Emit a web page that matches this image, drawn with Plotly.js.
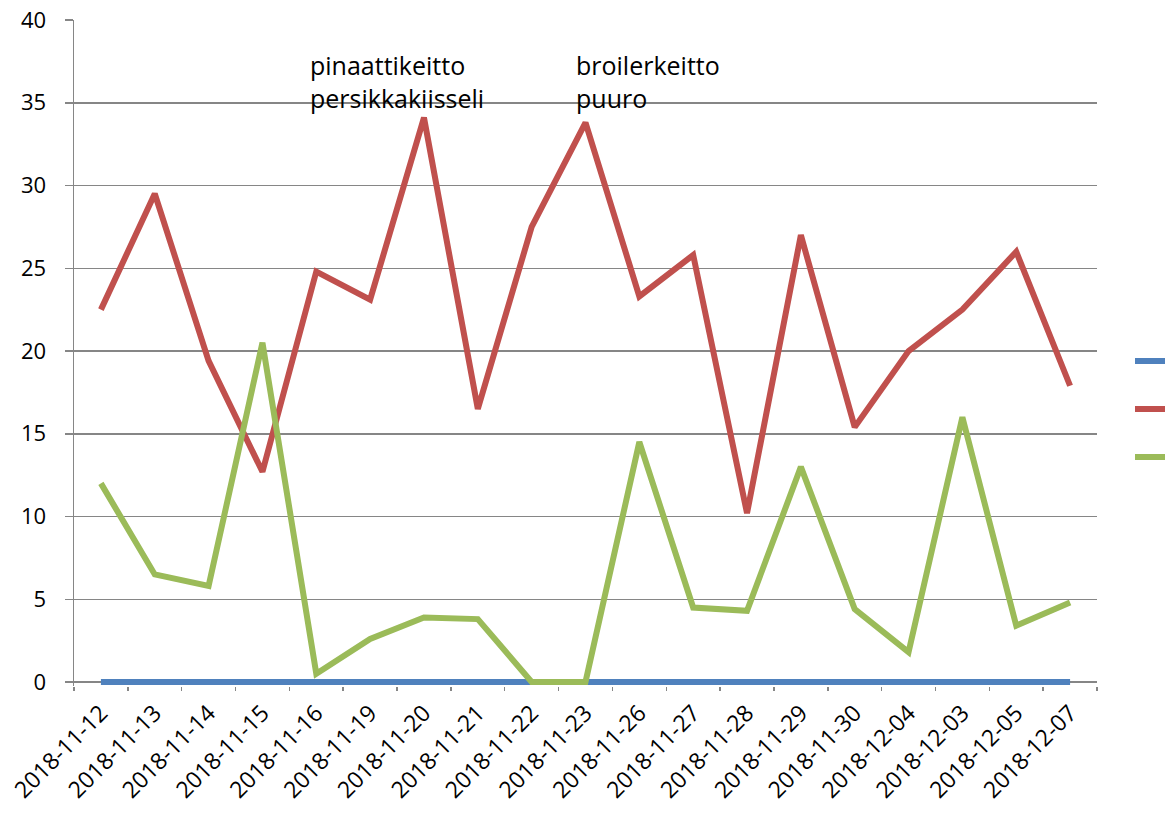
<!DOCTYPE html>
<html><head><meta charset="utf-8">
<script src="https://cdn.plot.ly/plotly-3.0.1.min.js"></script>
<style>html,body{margin:0;padding:0;background:#fff}#chart{width:1165px;height:823px}</style>
</head><body><div id="chart"></div>
<script>
const dates = ["2018-11-12","2018-11-13","2018-11-14","2018-11-15","2018-11-16","2018-11-19","2018-11-20","2018-11-21","2018-11-22","2018-11-23","2018-11-26","2018-11-27","2018-11-28","2018-11-29","2018-11-30","2018-12-04","2018-12-03","2018-12-05","2018-12-07"];
const blueValues = [0,0,0,0,0,0,0,0,0,0,0,0,0,0,0,0,0,0,0];
const redValues = [22.5,29.5,19.4,12.7,24.8,23.1,34.1,16.5,27.5,33.8,23.3,25.8,10.2,27,15.4,20,22.5,26,17.9];
const greenValues = [12,6.5,5.8,20.5,0.5,2.6,3.9,3.8,0,0,14.5,4.5,4.3,13,4.4,1.8,16,3.4,4.8];
const yTicks = [0,5,10,15,20,25,30,35,40];
const notes = [
  {date:"2018-11-16", text:"pinaattikeitto<br>persikkakiisseli"},
  {date:"2018-11-23", text:"broilerkeitto<br>puuro"}
];

const font = "'Open Sans', Lato, sans-serif";
function tr(y, color, g){
  return {x:dates, y:y, type:'scatter', mode:'lines', name:' ', legendgroup:g,
    line:{color:color, width:6}, hoverinfo:'skip'};
}
const data = [tr(blueValues,'#4F81BD','a'), tr(redValues,'#C0504D','b'), tr(greenValues,'#9BBB59','c')];
const noteShift = [-8, -12];

const layout = {
  width:1165, height:823,
  margin:{l:74, r:68, t:20, b:137},
  paper_bgcolor:'#fff', plot_bgcolor:'#fff',
  font:{family:font, size:22, color:'#000'},
  showlegend:true,
  legend:{xref:'container', yref:'container', x:1130/1165, y:(823-409)/823, xanchor:'left', yanchor:'middle', tracegroupgap:19, font:{size:20}, itemwidth:30, bgcolor:'rgba(0,0,0,0)'},
  xaxis:{type:'category', range:[-0.5,18.5], tickson:'boundaries', ticks:'outside', ticklen:4, tickcolor:'#868686', tickwidth:1.5,
    showgrid:false, showline:false, tickangle:-45, tickfont:{size:23, family:font}, ticklabelstandoff:8, zeroline:false, automargin:false},
  yaxis:{range:[-0.2417,40], tickvals:yTicks, ticks:'outside', ticklen:8, tickcolor:'#868686', tickwidth:1.5,
    showgrid:true, gridcolor:'#868686', gridwidth:1.5, showline:true, linecolor:'#868686', linewidth:1.5, zeroline:false,
    tickfont:{size:22, family:font}, ticklabelstandoff:14, automargin:false, layer:'below traces'},
  annotations: notes.map((n,i) => ({x:n.date, y:38.4, xref:'x', yref:'y', text:n.text, showarrow:false, xanchor:'left', yanchor:'top', xshift:noteShift[i], align:'left', font:{size:25, family:font, color:'#000'}}))
};
Plotly.newPlot('chart', data, layout, {staticPlot:true});
</script></body></html>
